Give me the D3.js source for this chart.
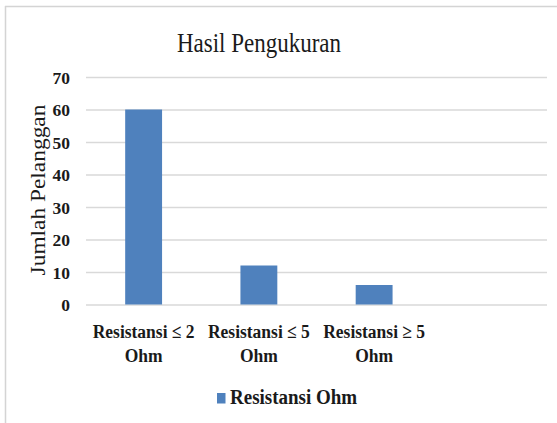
<!DOCTYPE html>
<html>
<head>
<meta charset="utf-8">
<script src="https://cdn.jsdelivr.net/npm/d3@7"></script>
<style>
  html, body { margin: 0; padding: 0; background: #fff; }
  svg { display: block; }
  text { font-family: "Liberation Serif", "Times New Roman", serif; fill: #1a1a1a; }
</style>
</head>
<body>
<svg id="chart" width="557" height="423"></svg>
<script>
const chartTitle = "Hasil Pengukuran";
const yTitle = "Jumlah Pelanggan";
const seriesName = "Resistansi Ohm";
const categories = ["Resistansi ≤ 2 Ohm", "Resistansi ≤ 5 Ohm", "Resistansi ≥ 5 Ohm", ""];
const values = [60, 12, 6, null];
const yTicks = [0, 10, 20, 30, 40, 50, 60, 70];

const svg = d3.select("#chart");
const W = 557, H = 423;
const plot = { left: 86, right: 547, top: 77, bottom: 304.5 };

// frame (top and left edges visible)
svg.append("line").attr("x1", 5).attr("x2", W).attr("y1", 6.5).attr("y2", 6.5)
  .attr("stroke", "#d4d4d4").attr("stroke-width", 1.5);
svg.append("line").attr("x1", 5.5).attr("x2", 5.5).attr("y1", 6).attr("y2", H)
  .attr("stroke", "#d4d4d4").attr("stroke-width", 1.5);

const y = d3.scaleLinear().domain([0, 70]).range([plot.bottom, plot.top]);
const x = d3.scaleBand().domain(categories.map((c, i) => i))
  .range([plot.left, plot.right]).paddingInner(0.68).paddingOuter(0.34);

// gridlines
const grid = svg.append("g").attr("transform", `translate(${plot.left},0)`)
  .call(d3.axisLeft(y).tickValues(yTicks).tickSize(-(plot.right - plot.left)).tickFormat(""));
grid.select(".domain").remove();
grid.selectAll(".tick line").attr("stroke", "#d9d9d9").attr("stroke-width", 1.3);

// y tick labels
const yAxis = svg.append("g").attr("transform", `translate(70,0)`)
  .call(d3.axisLeft(y).tickValues(yTicks).tickSize(0).tickPadding(0));
yAxis.select(".domain").remove();
yAxis.selectAll(".tick text")
  .attr("font-family", "Liberation Serif").attr("font-size", 17.5).attr("font-weight", "bold")
  .attr("fill", "#1a1a1a").attr("dy", "0.35em");

// bars
svg.append("g").selectAll("rect")
  .data(values.map((v, i) => ({ i, v })).filter(d => d.v != null))
  .join("rect")
  .attr("x", d => x(d.i))
  .attr("width", x.bandwidth())
  .attr("y", d => y(d.v))
  .attr("height", d => y(0) - y(d.v))
  .attr("fill", "#4F81BD");

// x labels (two lines)
const xl = svg.append("g").selectAll("text")
  .data(categories.map((c, i) => ({ c, i })).filter(d => d.c))
  .join("text")
  .attr("text-anchor", "middle")
  .attr("font-size", 17.5).attr("font-weight", "bold")
  .attr("transform", d => `translate(${x(d.i) + x.bandwidth() / 2},0) scale(1,1.1)`);
xl.each(function (d) {
  const idx = d.c.lastIndexOf(" Ohm");
  const lines = [d.c.slice(0, idx), d.c.slice(idx + 1)];
  d3.select(this).selectAll("tspan").data(lines).join("tspan")
    .attr("x", 0).attr("y", (l, k) => (338 + k * 24) / 1.1).text(l => l);
});

// title
svg.append("text")
  .attr("text-anchor", "middle").attr("font-size", 23)
  .attr("transform", "translate(259,52) scale(1,1.17)")
  .text(chartTitle);

// y title
svg.append("text")
  .attr("text-anchor", "middle").attr("font-size", 20)
  .attr("transform", "translate(45,190) rotate(-90) scale(1.17,1)")
  .text(yTitle);

// legend
svg.append("rect").attr("x", 217).attr("y", 393).attr("width", 8.5).attr("height", 10.5)
  .attr("fill", "#4F81BD");
svg.append("text").attr("font-size", 19).attr("font-weight", "bold")
  .attr("transform", "translate(230,404) scale(1,1.08)")
  .text(seriesName);
</script>
</body>
</html>
